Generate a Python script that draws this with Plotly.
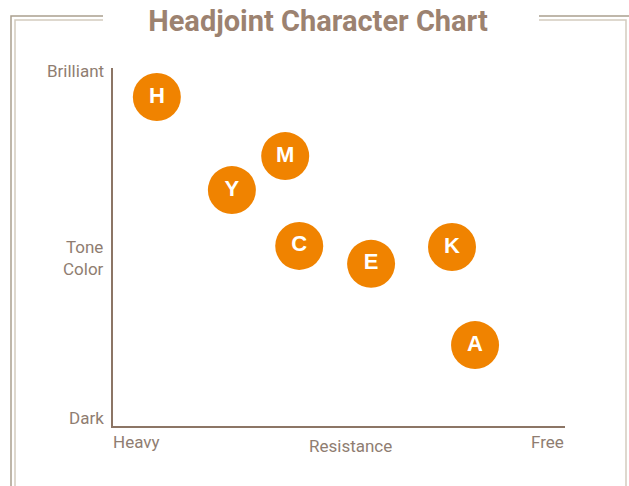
import plotly.graph_objects as go

# headjoint positions: resistance (0 heavy .. 10 free), tone (0 dark .. 10 brilliant)
models = ["H", "M", "Y", "C", "E", "K", "A"]
resistance = [0.97, 3.81, 2.63, 4.12, 5.71, 7.50, 8.01]
tone = [9.19, 7.54, 6.59, 5.03, 4.53, 5.00, 2.26]

y_labels = ["Dark", "Tone<br>Color", "Brilliant"]
x_labels = ["Heavy", "Resistance", "Free"]

W, H = 629, 486
L, R, T, B = 113, 64, 68, 60
pw, ph = W - L - R, H - T - B


def px(x):
    return (x - L) / pw


def py(y):
    return (H - B - y) / ph


axis_col = "#8c7565"
text_col = "#8f7d71"
outer_col = "#aaa08f"
inner_col = "#d3cbbe"

fig = go.Figure(
    go.Scatter(
        x=resistance,
        y=tone,
        mode="markers+text",
        text=models,
        textposition="middle center",
        textfont=dict(color="white", size=22, family="Liberation Sans"),
        texttemplate="<b>%{text}</b>",
        marker=dict(size=48, color="#f08300", line=dict(width=0)),
        hoverinfo="text",
    )
)

# double frame around the chart
shapes = []
for off, col in [(0, outer_col), (4, inner_col)]:
    x0, y0 = 11 + off, 16 + off
    x1 = 630 - off
    path_l = f"M {px(103)},{py(y0)} L {px(x0)},{py(y0)} L {px(x0)},{py(500)}"
    path_r = f"M {px(539)},{py(y0)} L {px(x1)},{py(y0)} L {px(x1)},{py(500)}"
    for p in (path_l, path_r):
        shapes.append(dict(type="path", path=p, xref="paper", yref="paper",
                           line=dict(color=col, width=1.5), layer="below"))

annotations = [
    dict(x=px(106), y=py(71), text=y_labels[2], xanchor="right"),
    dict(x=px(106), y=py(258), text=y_labels[1], xanchor="right", align="right"),
    dict(x=px(106), y=py(418), text=y_labels[0], xanchor="right"),
    dict(x=px(111), y=py(442), text=x_labels[0], xanchor="left"),
    dict(x=px(350), y=py(446), text=x_labels[1], xanchor="center"),
    dict(x=px(566), y=py(442), text=x_labels[2], xanchor="right"),
]
for a in annotations:
    a.update(xref="paper", yref="paper", yanchor="middle", showarrow=False,
             font=dict(color=text_col, size=17, family="Roboto"))

fig.update_layout(
    width=W,
    height=H,
    margin=dict(l=L, r=R, t=T, b=B),
    paper_bgcolor="white",
    plot_bgcolor="white",
    showlegend=False,
    title=dict(
        text="<b>Headjoint Character Chart</b>",
        x=318 / W,
        xanchor="center",
        y=1 - 21 / H,
        yanchor="middle",
        font=dict(family="Roboto", size=29, color="#9c8270"),
    ),
    xaxis=dict(range=[0, 10], showgrid=False, zeroline=False, showticklabels=False,
               showline=True, linecolor=axis_col, linewidth=1.5, fixedrange=True),
    yaxis=dict(range=[0, 10], showgrid=False, zeroline=False, showticklabels=False,
               showline=True, linecolor=axis_col, linewidth=1.5, fixedrange=True),
    shapes=shapes,
    annotations=annotations,
)

# drop the default page margin so the chart sits at the window origin
fig.write_html("out.html", config={"displayModeBar": False},
               post_script="document.body.style.margin='0';document.body.style.overflow='hidden';")
